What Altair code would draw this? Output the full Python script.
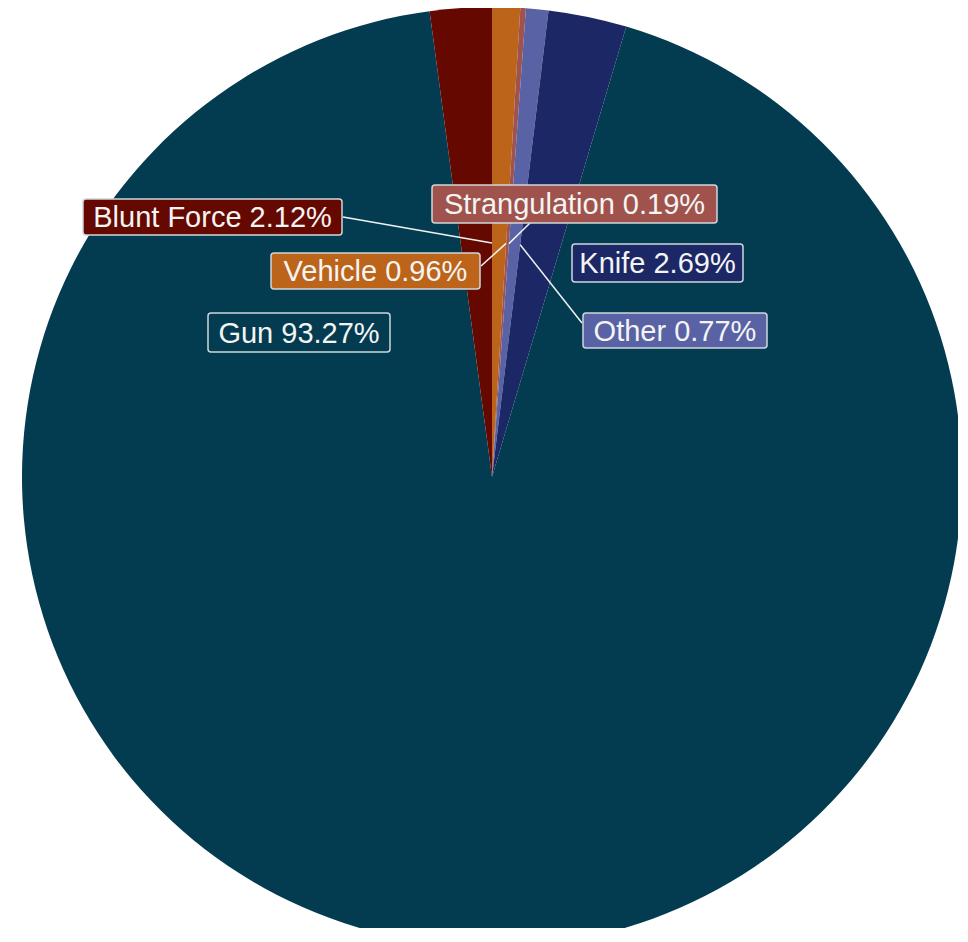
import math
import altair as alt
import pandas as pd

# ---- data ----
categories = ["Vehicle", "Strangulation", "Other", "Knife", "Gun", "Blunt Force"]
percents = [0.96, 0.19, 0.77, 2.69, 93.27, 2.12]
colors = ["#bc6419", "#a0534c", "#5862a5", "#1c2766", "#033c50", "#640800"]

# ---- layout (chart pixel coordinates) ----
W, H = 950, 920
CX, CY, R = 484, 469, 470
LEADER_R = 234
# label box centre, half width, half height, leader anchor (or None)
label_layout = {
    "Blunt Force": (204.5, 209, 129.5, 18, (335, 209)),
    "Vehicle": (367.5, 263, 104.5, 18, (473, 258)),
    "Strangulation": (566.5, 196, 142.5, 19, (522, 215)),
    "Knife": (649.5, 255, 85.5, 19, None),
    "Other": (667, 322.5, 92, 17.5, (574, 315)),
    "Gun": (291, 324.5, 91, 19.5, None),
}

slices = pd.DataFrame({"cat": categories, "pct": percents, "ord": list(range(len(categories)))})

# label + leader tables
rows, lines = [], []
cum = 0.0
for cat, p in zip(categories, percents):
    cum += p
    cx, cy, hw, hh, anchor = label_layout[cat]
    rows.append({"cat": cat, "label": f"{cat} {p:.2f}%", "x": cx, "y": cy,
                 "x0": cx - hw, "x1": cx + hw, "y0": cy - hh, "y1": cy + hh})
    if anchor is not None:
        ang = 2 * math.pi * cum / 100.0
        lines.append({"cat": cat, "x": anchor[0], "y": anchor[1],
                      "x2": CX + LEADER_R * math.sin(ang), "y2": CY - LEADER_R * math.cos(ang)})
labels = pd.DataFrame(rows)
leaders = pd.DataFrame(lines)

color_scale = alt.Scale(domain=categories, range=colors)

pie = alt.Chart(slices).mark_arc(outerRadius=R, stroke=None).encode(
    theta=alt.Theta("pct:Q", stack=True),
    order=alt.Order("ord:Q", sort="ascending"),
    color=alt.Color("cat:N", scale=color_scale, legend=None),
    x=alt.value(CX),
    y=alt.value(CY),
)

rules = alt.Chart(leaders).mark_rule(color="#f2f2f2", strokeWidth=1.5).encode(
    x=alt.X("x:Q", scale=None, axis=None),
    y=alt.Y("y:Q", scale=None, axis=None),
    x2="x2:Q",
    y2="y2:Q",
)

boxes = alt.Chart(labels).mark_rect(cornerRadius=3, stroke="#cfd6da", strokeWidth=1.5).encode(
    x=alt.X("x0:Q", scale=None, axis=None),
    x2="x1:Q",
    y=alt.Y("y0:Q", scale=None, axis=None),
    y2="y1:Q",
    fill=alt.Fill("cat:N", scale=color_scale, legend=None),
)

texts = alt.Chart(labels).mark_text(
    font="Liberation Sans", fontSize=29, color="#f4f4f4", align="center", baseline="middle", dy=1
).encode(
    x=alt.X("x:Q", scale=None, axis=None),
    y=alt.Y("y:Q", scale=None, axis=None),
    text="label:N",
)

chart = alt.layer(pie, rules, boxes, texts).properties(
    width=W, height=H, autosize=alt.AutoSizeParams(type="none"), padding=0
).configure_view(stroke=None)

chart.save("out.html", embed_options={"renderer": "svg", "actions": False})
